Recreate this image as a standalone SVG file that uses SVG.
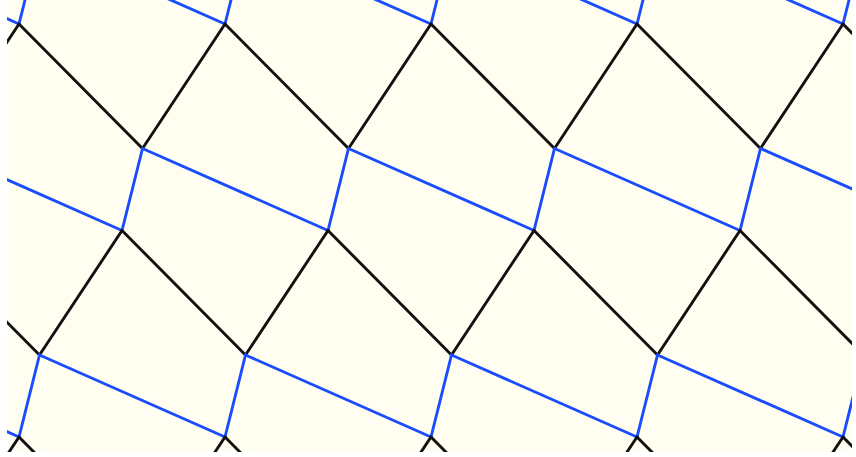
<svg xmlns="http://www.w3.org/2000/svg" xmlns:xlink="http://www.w3.org/1999/xlink" width="856" height="457" viewBox="0 0 856 457">
<style>
.bk{stroke:#111111;stroke-width:2.9;stroke-linecap:round;fill:none}
.bl{stroke:#1a4cff;stroke-width:2.9;stroke-linecap:round;fill:none}
</style>
<defs>
<clipPath id="clip"><rect x="7" y="0" width="845" height="452"/></clipPath>
<g id="cell">
<line class="bk" x1="142.5" y1="148.5" x2="225" y2="24"/>
<line class="bk" x1="142.5" y1="148.5" x2="19" y2="24"/>
<line class="bl" x1="142.5" y1="148.5" x2="122" y2="230.5"/>
<line class="bl" x1="142.5" y1="148.5" x2="328" y2="230.5"/>
</g>
</defs>
<rect x="0" y="0" width="856" height="457" fill="#ffffff"/>
<rect x="7" y="0" width="845" height="452" fill="#fffef0"/>
<g id="tiling" clip-path="url(#clip)">
<use xlink:href="#cell" transform="translate(-309,-206.5)"/>
<use xlink:href="#cell" transform="translate(-103,-206.5)"/>
<use xlink:href="#cell" transform="translate(103,-206.5)"/>
<use xlink:href="#cell" transform="translate(309,-206.5)"/>
<use xlink:href="#cell" transform="translate(515,-206.5)"/>
<use xlink:href="#cell" transform="translate(721,-206.5)"/>
<use xlink:href="#cell" transform="translate(-206,0)"/>
<use xlink:href="#cell" transform="translate(0,0)"/>
<use xlink:href="#cell" transform="translate(206,0)"/>
<use xlink:href="#cell" transform="translate(412,0)"/>
<use xlink:href="#cell" transform="translate(618,0)"/>
<use xlink:href="#cell" transform="translate(824,0)"/>
<use xlink:href="#cell" transform="translate(-309,206.5)"/>
<use xlink:href="#cell" transform="translate(-103,206.5)"/>
<use xlink:href="#cell" transform="translate(103,206.5)"/>
<use xlink:href="#cell" transform="translate(309,206.5)"/>
<use xlink:href="#cell" transform="translate(515,206.5)"/>
<use xlink:href="#cell" transform="translate(721,206.5)"/>
<use xlink:href="#cell" transform="translate(-206,413)"/>
<use xlink:href="#cell" transform="translate(0,413)"/>
<use xlink:href="#cell" transform="translate(206,413)"/>
<use xlink:href="#cell" transform="translate(412,413)"/>
<use xlink:href="#cell" transform="translate(618,413)"/>
<use xlink:href="#cell" transform="translate(824,413)"/>
</g>
</svg>
